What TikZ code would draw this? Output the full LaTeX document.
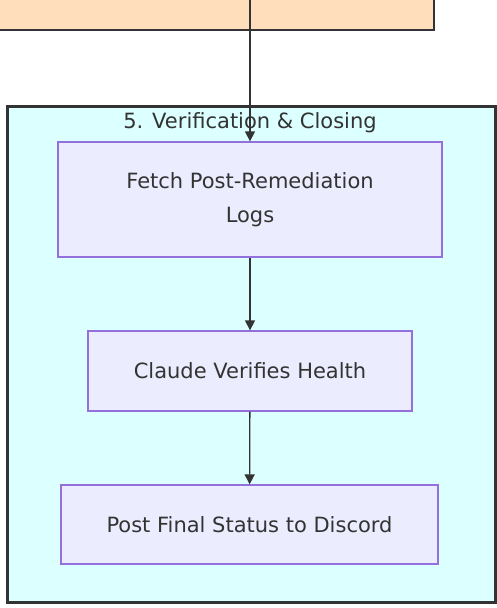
\documentclass[tikz,border=0pt]{standalone}
\usepackage{fontspec}
\setmainfont{DejaVu Sans}
\usetikzlibrary{arrows.meta}
\definecolor{peach}{HTML}{FFDEBB}
\definecolor{clusterfill}{HTML}{DCFFFF}
\definecolor{nodefill}{HTML}{ECECFF}
\definecolor{nodeline}{HTML}{9370DB}
\definecolor{dark}{HTML}{333333}
\tikzset{
  proc/.style={draw=nodeline, fill=nodefill, line width=1.3pt, align=center, font=\fontsize{21}{34}\selectfont, text=dark, inner sep=0pt},
  flow/.style={draw=dark, line width=1.3pt, -{Triangle[length=10pt,width=10pt]}},
}
\begin{document}
\begin{tikzpicture}[x=1pt,y=-1pt]
\useasboundingbox (0,0) rectangle (497,608);
\clip (0,0) rectangle (497,608);
\node[draw=dark, fill=peach, line width=2.5pt, minimum width=461pt, minimum height=46pt, anchor=south east, inner sep=0pt] (prev) at (435,31) {};
\node[draw=dark, fill=clusterfill, line width=2.5pt, minimum width=488pt, minimum height=496pt, anchor=north west, inner sep=0pt] (cluster) at (6,105) {};
\node[font=\fontsize{21}{24}\selectfont, text=dark] (title) at (250,123) {5. Verification \& Closing};
\node[proc, minimum width=384pt, minimum height=115pt] (n1) at (250,199.5) {Fetch Post-Remediation\\Logs};
\node[proc, minimum width=324pt, minimum height=80pt] (n2) at (250,371) {Claude Verifies Health};
\node[proc, minimum width=377pt, minimum height=79pt] (n3) at (249.5,524.5) {Post Final Status to Discord};
\coordinate (src) at (250,-5);
\draw[flow] (src) -- (n1.north);
\draw[flow] (n1) -- (n2);
\draw[flow] (n2) -- (n3);
\end{tikzpicture}
\end{document}
